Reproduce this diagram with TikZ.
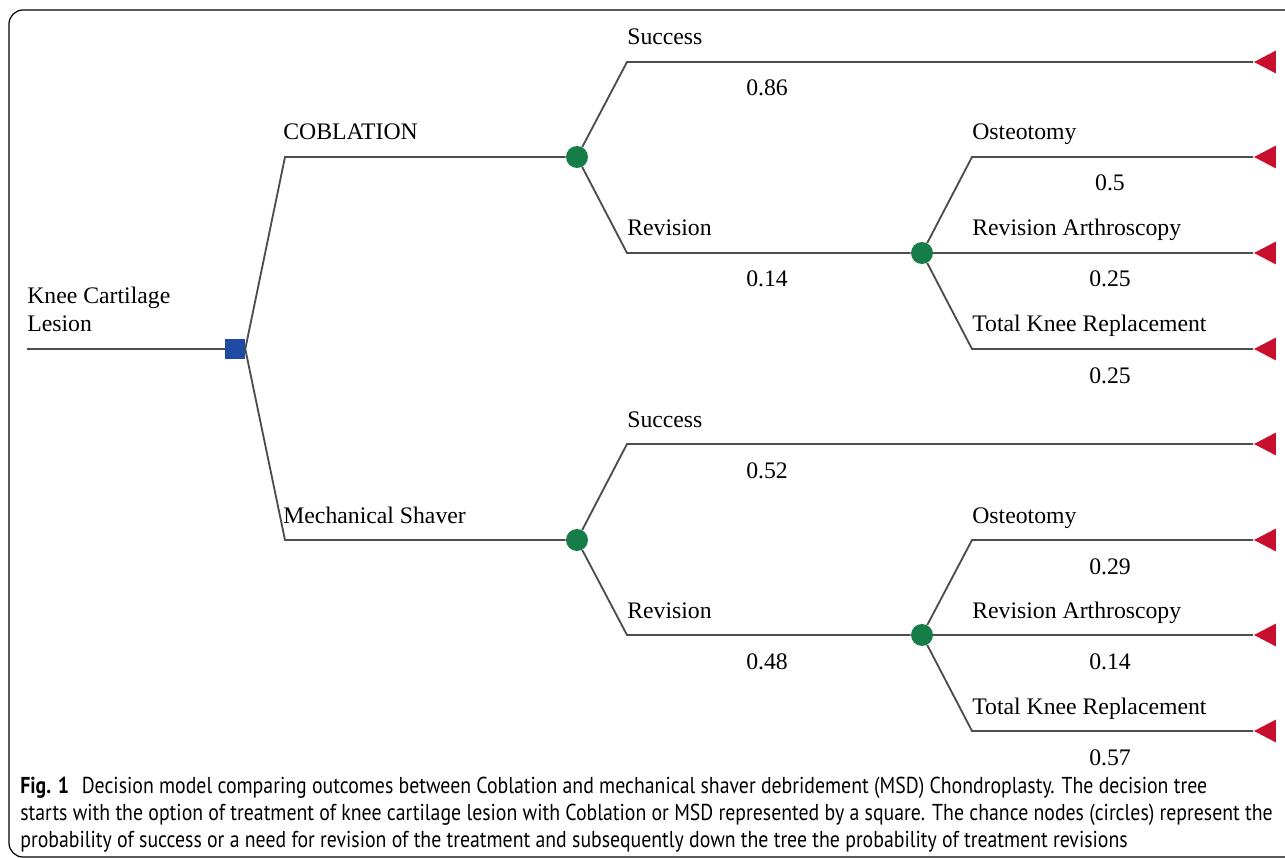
\documentclass[tikz,border=0pt]{standalone}
\usepackage{fontspec}
\setmainfont{Liberation Serif}
\newfontfamily\capfont[FakeStretch=0.86]{PT Sans}
\usetikzlibrary{shapes.geometric}
\definecolor{treegray}{HTML}{4D4D4D}
\definecolor{decblue}{HTML}{1F4BA5}
\definecolor{chgreen}{HTML}{167D48}
\definecolor{endred}{HTML}{C8102E}
\tikzset{
  >=latex,
}
\tikzstyle{branch}=[treegray,line width=1.05pt]
\tikzstyle{decision}=[fill=decblue,minimum size=11.3pt,inner sep=0]
\tikzstyle{chance}=[circle,fill=chgreen,minimum size=12.5pt,inner sep=0]
\tikzstyle{terminal}=[isosceles triangle,isosceles triangle apex angle=55,shape border rotate=180,fill=endred,inner sep=0,minimum height=12.5pt]
\tikzstyle{every node}=[font=\fontsize{13.5}{16}\selectfont]
\tikzstyle{lbl}=[anchor=base west,inner sep=0]
\tikzstyle{prob}=[anchor=base,inner sep=0]
\tikzstyle{caption}=[anchor=base west,inner sep=0,font=\capfont\fontsize{13.1}{16}\selectfont]

\begin{document}
\begin{tikzpicture}[x=0.02cm,y=-0.02cm]
  \useasboundingbox (0,0) rectangle (1285,858);
  \draw[line width=0.7pt,rounded corners=8] (9,10) rectangle (1300,857);
  % decision node and the two treatments
  \coordinate (in) at (27,349);
  \node[decision] (dec) at (235,349) {};
  \coordinate (cob) at (285,157);
  \coordinate (msd) at (285,540);
  \node[chance] (chcob) at (577,157) {};
  \node[chance] (chmsd) at (577,540) {};
  \draw[branch] (in) -- (dec);
  \draw[branch] (dec.east) -- (cob) -- (chcob);
  \draw[branch] (dec.east) -- (msd) -- (chmsd);
  % coblation
  \coordinate (cobsuc) at (627,62);
  \coordinate (cobrev) at (627,253);
  \node[chance] (chcobrev) at (922,253) {};
  \coordinate (cobost) at (972,157);
  \coordinate (cobtkr) at (972,349);
  \node[terminal] (tcobsuc) at (1269,62) {};
  \node[terminal] (tcobost) at (1269,157) {};
  \node[terminal] (tcobart) at (1269,253) {};
  \node[terminal] (tcobtkr) at (1269,349) {};
  \draw[branch] (chcob) -- (cobsuc) -- (tcobsuc.apex);
  \draw[branch] (chcob) -- (cobrev) -- (chcobrev);
  \draw[branch] (chcobrev) -- (cobost) -- (tcobost.apex);
  \draw[branch] (chcobrev) -- (tcobart.apex);
  \draw[branch] (chcobrev) -- (cobtkr) -- (tcobtkr.apex);
  % mechanical shaver
  \coordinate (msdsuc) at (627,444);
  \coordinate (msdrev) at (627,635);
  \node[chance] (chmsdrev) at (922,635) {};
  \coordinate (msdost) at (972,540);
  \coordinate (msdtkr) at (972,731);
  \node[terminal] (tmsdsuc) at (1269,444) {};
  \node[terminal] (tmsdost) at (1269,540) {};
  \node[terminal] (tmsdart) at (1269,635) {};
  \node[terminal] (tmsdtkr) at (1269,731) {};
  \draw[branch] (chmsd) -- (msdsuc) -- (tmsdsuc.apex);
  \draw[branch] (chmsd) -- (msdrev) -- (chmsdrev);
  \draw[branch] (chmsdrev) -- (msdost) -- (tmsdost.apex);
  \draw[branch] (chmsdrev) -- (tmsdart.apex);
  \draw[branch] (chmsdrev) -- (msdtkr) -- (tmsdtkr.apex);
  % labels
  \node[lbl] (lknee) at (27,303) {Knee Cartilage};
  \node[lbl] (lles) at (27,332) {Lesion};
  \node[lbl] (lcob) at (283,140) {COBLATION};
  \node[lbl] (lmsd) at (283,523) {Mechanical Shaver};
  \node[lbl] (lcobsuc) at (627,45) {Success};
  \node[lbl] (lcobrev) at (627,236) {Revision};
  \node[lbl] (lcobost) at (972,140) {Osteotomy};
  \node[lbl] (lcobart) at (972,236) {Revision Arthroscopy};
  \node[lbl] (lcobtkr) at (972,332) {Total Knee Replacement};
  \node[lbl] (lmsdsuc) at (627,427) {Success};
  \node[lbl] (lmsdrev) at (627,618) {Revision};
  \node[lbl] (lmsdost) at (972,523) {Osteotomy};
  \node[lbl] (lmsdart) at (972,618) {Revision Arthroscopy};
  \node[lbl] (lmsdtkr) at (972,714) {Total Knee Replacement};
  \node[prob] (pcobsuc) at (767,96) {0.86};
  \node[prob] (pcobrev) at (767,287) {0.14};
  \node[prob] (pcobost) at (1110,191) {0.5};
  \node[prob] (pcobart) at (1110,287) {0.25};
  \node[prob] (pcobtkr) at (1110,383) {0.25};
  \node[prob] (pmsdsuc) at (767,478) {0.52};
  \node[prob] (pmsdrev) at (767,669) {0.48};
  \node[prob] (pmsdost) at (1110,574) {0.29};
  \node[prob] (pmsdart) at (1110,669) {0.14};
  \node[prob] (pmsdtkr) at (1110,765) {0.57};
  % caption
  \node[caption] (cap1) at (20,793) {\textbf{Fig. 1}\hspace{0.55em}Decision model comparing outcomes between Coblation and mechanical shaver debridement (MSD) Chondroplasty. The decision tree};
  \node[caption] (cap2) at (20,820) {starts with the option of treatment of knee cartilage lesion with Coblation or MSD represented by a square. The chance nodes (circles) represent the};
  \node[caption] (cap3) at (20,847) {probability of success or a need for revision of the treatment and subsequently down the tree the probability of treatment revisions};
\end{tikzpicture}
\end{document}
